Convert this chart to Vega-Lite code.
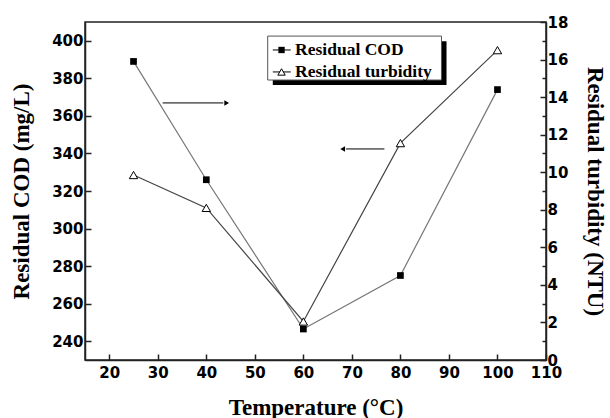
{
  "$schema": "https://vega.github.io/schema/vega-lite/v6.json",
  "width": 461,
  "height": 338,
  "autosize": "none",
  "padding": {"left": 85, "top": 22, "right": 64, "bottom": 58},
  "background": "white",
  "config": {
    "view": {"stroke": "#222222", "strokeWidth": 1.5},
    "axis": {
      "grid": false,
      "domainColor": "#222222",
      "domainWidth": 1.5,
      "tickColor": "#222222",
      "tickWidth": 1.5,
      "labelFont": "DejaVu Sans",
      "labelFontWeight": "bold",
      "labelFontSize": 15,
      "labelColor": "black",
      "labelOverlap": false,
      "labelFlush": false,
      "titleFont": "Liberation Serif",
      "titleFontWeight": "bold",
      "titleFontSize": 23,
      "titleColor": "black"
    }
  },
  "datasets": {
    "series": [
      {"temperature": 25, "cod": 389, "turbidity": 9.85},
      {"temperature": 40, "cod": 326, "turbidity": 8.1},
      {"temperature": 60, "cod": 246.5, "turbidity": 2.05},
      {"temperature": 80, "cod": 275, "turbidity": 11.55},
      {"temperature": 100, "cod": 374, "turbidity": 16.5}
    ],
    "arrows": [
      {"x1": 31, "x2": 43.5, "y": 366.9},
      {"x1": 68.8, "x2": 76.7, "y": 342.4}
    ],
    "arrowheads": [
      {"x": 44.2, "y": 366.9, "shape": "triangle-right"},
      {"x": 68.1, "y": 342.4, "shape": "triangle-left"}
    ],
    "legendShadow": [{"x1": 53.7, "x2": 89.5, "y1": 399.8, "y2": 376.4}],
    "legendBox": [{"x1": 52.65, "x2": 88.46, "y1": 402.5, "y2": 379.1}],
    "legendItems": [
      {"label": "Residual COD", "x1": 53.7, "x2": 57.4, "xm": 55.5, "xt": 58.3, "y": 395.1, "marker": "square"},
      {"label": "Residual turbidity", "x1": 53.7, "x2": 57.4, "xm": 55.5, "xt": 58.3, "y": 383.4, "marker": "triangle"}
    ]
  },
  "resolve": {"scale": {"y": "independent"}},
  "layer": [
    {
      "layer": [
        {
          "data": {"name": "series"},
          "mark": {"type": "line", "color": "#777777", "strokeWidth": 1.2},
          "encoding": {
            "x": {
              "field": "temperature", "type": "quantitative",
              "scale": {"domain": [15, 110], "nice": false, "zero": false},
              "axis": {
                "title": "Temperature (°C)",
                "values": [20, 25, 30, 35, 40, 45, 50, 55, 60, 65, 70, 75, 80, 85, 90, 95, 100, 105, 110],
                "labelExpr": "datum.value % 10 === 0 ? datum.label : ''",
                "labelOverlap": false,
                "labelFlush": false,
                "tickSize": {"condition": {"test": "datum.value % 10 === 0", "value": -6}, "value": -4},
                "labelPadding": 11,
                "titlePadding": 16
              }
            },
            "y": {
              "field": "cod", "type": "quantitative",
              "scale": {"domain": [230, 410], "nice": false, "zero": false},
              "axis": {
                "title": "Residual COD (mg/L)",
                "orient": "left",
                "values": [240, 250, 260, 270, 280, 290, 300, 310, 320, 330, 340, 350, 360, 370, 380, 390, 400],
                "labelExpr": "datum.value % 20 === 0 ? datum.label : ''",
                "labelOverlap": false,
                "tickSize": {"condition": {"test": "datum.value % 20 === 0", "value": -6}, "value": -4},
                "labelPadding": 8,
                "titlePadding": 18
              }
            }
          }
        },
        {
          "data": {"name": "series"},
          "mark": {"type": "point", "shape": "square", "filled": true, "color": "black", "opacity": 1, "size": 45},
          "encoding": {
            "x": {"field": "temperature", "type": "quantitative"},
            "y": {"field": "cod", "type": "quantitative"}
          }
        },
        {
          "data": {"name": "arrows"},
          "mark": {"type": "rule", "color": "black", "strokeWidth": 1},
          "encoding": {
            "x": {"field": "x1", "type": "quantitative"},
            "x2": {"field": "x2"},
            "y": {"field": "y", "type": "quantitative"}
          }
        },
        {
          "data": {"name": "arrowheads"},
          "mark": {"type": "point", "filled": true, "color": "black", "opacity": 1, "size": 30},
          "encoding": {
            "x": {"field": "x", "type": "quantitative"},
            "y": {"field": "y", "type": "quantitative"},
            "shape": {"field": "shape", "type": "nominal", "scale": null, "legend": null}
          }
        },
        {
          "data": {"name": "legendShadow"},
          "mark": {"type": "rect", "color": "black"},
          "encoding": {
            "x": {"field": "x1", "type": "quantitative"},
            "x2": {"field": "x2"},
            "y": {"field": "y1", "type": "quantitative"},
            "y2": {"field": "y2"}
          }
        },
        {
          "data": {"name": "legendBox"},
          "mark": {"type": "rect", "fill": "white", "stroke": "#555555", "strokeWidth": 1},
          "encoding": {
            "x": {"field": "x1", "type": "quantitative"},
            "x2": {"field": "x2"},
            "y": {"field": "y1", "type": "quantitative"},
            "y2": {"field": "y2"}
          }
        },
        {
          "data": {"name": "legendItems"},
          "mark": {"type": "rule", "color": "black", "strokeWidth": 1},
          "encoding": {
            "x": {"field": "x1", "type": "quantitative"},
            "x2": {"field": "x2"},
            "y": {"field": "y", "type": "quantitative"}
          }
        },
        {
          "data": {"name": "legendItems"},
          "transform": [{"filter": "datum.marker === 'square'"}],
          "mark": {"type": "point", "shape": "square", "filled": true, "color": "black", "opacity": 1, "size": 40},
          "encoding": {
            "x": {"field": "xm", "type": "quantitative"},
            "y": {"field": "y", "type": "quantitative"}
          }
        },
        {
          "data": {"name": "legendItems"},
          "transform": [{"filter": "datum.marker === 'triangle'"}],
          "mark": {"type": "point", "shape": "triangle-up", "filled": true, "fill": "white", "stroke": "black", "strokeWidth": 1, "opacity": 1, "size": 55},
          "encoding": {
            "x": {"field": "xm", "type": "quantitative"},
            "y": {"field": "y", "type": "quantitative"}
          }
        },
        {
          "data": {"name": "legendItems"},
          "mark": {"type": "text", "align": "left", "baseline": "middle", "font": "Liberation Serif", "fontWeight": "bold", "fontSize": 17.5, "color": "black"},
          "encoding": {
            "x": {"field": "xt", "type": "quantitative"},
            "y": {"field": "y", "type": "quantitative"},
            "text": {"field": "label"}
          }
        }
      ]
    },
    {
      "data": {"name": "series"},
      "encoding": {
        "x": {"field": "temperature", "type": "quantitative"},
        "y": {
          "field": "turbidity", "type": "quantitative",
          "scale": {"domain": [0, 18], "nice": false},
          "axis": {
            "title": "Residual turbidity (NTU)",
            "orient": "right",
            "values": [0, 1, 2, 3, 4, 5, 6, 7, 8, 9, 10, 11, 12, 13, 14, 15, 16, 17, 18],
            "labelExpr": "datum.value % 2 === 0 ? datum.label : ''",
            "labelOverlap": false,
            "tickSize": {"condition": {"test": "datum.value % 2 === 0", "value": -6}, "value": -4},
            "labelPadding": 7,
            "titlePadding": 15
          }
        }
      },
      "layer": [
        {"mark": {"type": "line", "color": "#444444", "strokeWidth": 1.2}},
        {"mark": {"type": "point", "shape": "triangle-up", "filled": true, "fill": "white", "stroke": "black", "strokeWidth": 1, "opacity": 1, "size": 70}}
      ]
    }
  ]
}
